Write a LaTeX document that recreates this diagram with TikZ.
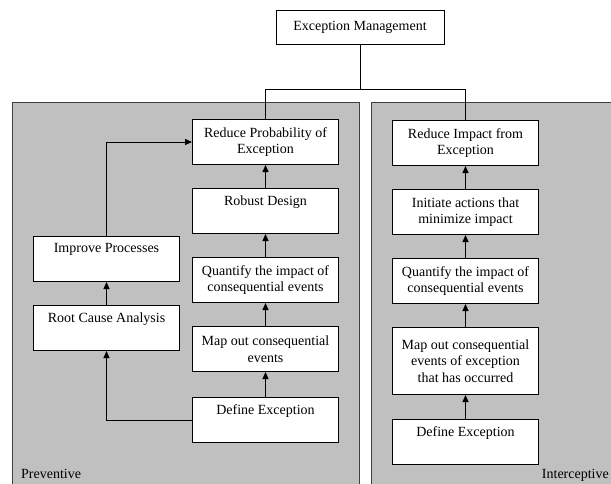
\documentclass[tikz,border=0pt]{standalone}
\usepackage{fontspec}
\setmainfont{Liberation Serif}
\usetikzlibrary{arrows.meta, positioning}
\definecolor{panelgray}{RGB}{192,192,192}
\definecolor{panelline}{RGB}{64,64,64}

\begin{document}
\begin{tikzpicture}[
    x=1pt, y=-1pt,
    font=\fontsize{14}{16.5}\selectfont,
    node distance=23pt,
    stepbox/.style={rectangle, draw, fill=white, line width=1pt,
                minimum width=146pt, minimum height=45pt,
                inner xsep=3pt, inner ysep=6pt, align=center},
    panel/.style={draw=panelline, fill=panelgray, line width=1pt},
    arr/.style={-{Triangle[length=7pt,width=6pt]}, line width=1pt},
    link/.style={line width=1pt},
]
    \useasboundingbox (0,0) rectangle (611,483);
    \clip (0,0) rectangle (611,483);

    % panels
    \draw[panel] (12,102) rectangle (359,500);
    \draw[panel] (371,102) rectangle (630,500);
    \node[anchor=base west, inner sep=0pt] (prevlabel) at (21,478) {Preventive};
    \node[anchor=base east, inner sep=0pt] (interlabel) at (609,478) {Interceptive};

    % root of the tree
    \node[stepbox, minimum width=168pt, minimum height=34pt] (excmgmt) at (360,27)
        {Exception Management};
    \coordinate[below=45pt of excmgmt] (split);

    % preventive
    \node[stepbox, anchor=north west] (defprev) at (192,397) {Define Exception\\\strut};
    \node[stepbox, above=25pt of defprev] (mapprev) {Map out consequential\\events};
    \node[stepbox, above=of mapprev] (quantprev) {Quantify the impact of\\consequential events};
    \node[stepbox, above=of quantprev] (robust) {Robust Design\\\strut};
    \node[stepbox, above=of robust] (redprob) {Reduce Probability of\\Exception};

    \node[stepbox, anchor=north west] (rootcause) at (33,305) {Root Cause Analysis\\\strut};
    \node[stepbox, above=of rootcause] (improve) {Improve Processes\\\strut};

    % interceptive
    \node[stepbox, anchor=north west] (definter) at (392,419) {Define Exception\\\strut};
    \node[stepbox, minimum height=67pt, above=24pt of definter] (mapinter)
        {Map out consequential\\events of exception\\that has occurred};
    \node[stepbox, above=of mapinter] (quantinter) {Quantify the impact of\\consequential events};
    \node[stepbox, above=of quantinter] (initiate) {Initiate actions that\\minimize impact};
    \node[stepbox, above=of initiate] (redimpact) {Reduce Impact from\\Exception};

    \draw[link] (excmgmt) -- (split);
    \draw[link] (redprob.north) |- (split) -| (redimpact.north);

    \draw[arr] (defprev) -- (mapprev);
    \draw[arr] (mapprev) -- (quantprev);
    \draw[arr] (quantprev) -- (robust);
    \draw[arr] (robust) -- (redprob);
    \draw[arr] (defprev.west) -| (rootcause.south);
    \draw[arr] (rootcause) -- (improve);
    \draw[arr] (improve.north) |- (redprob.west);

    \draw[arr] (definter) -- (mapinter);
    \draw[arr] (mapinter) -- (quantinter);
    \draw[arr] (quantinter) -- (initiate);
    \draw[arr] (initiate) -- (redimpact);
\end{tikzpicture}
\end{document}
